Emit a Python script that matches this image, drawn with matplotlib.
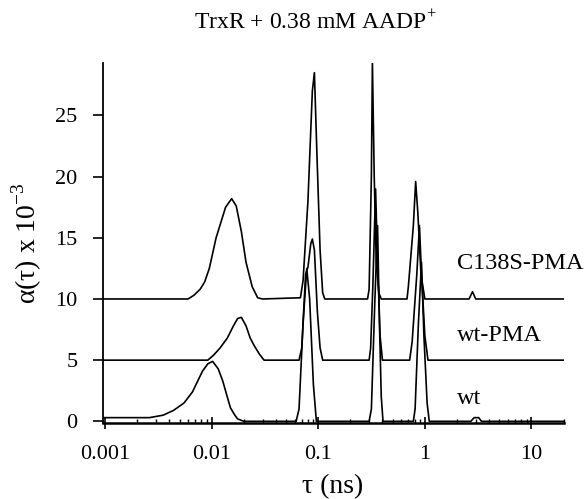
import matplotlib.pyplot as plt
import numpy as np

plt.rcParams['font.family'] = ['Liberation Serif', 'DejaVu Serif']
plt.rcParams['mathtext.fontset'] = 'custom'
plt.rcParams['mathtext.rm'] = 'Liberation Serif'

# lifetime distributions (values above each trace's own baseline)
tau_c138s = [0.00095, 0.006, 0.0068, 0.0078, 0.0086, 0.0095, 0.011, 0.0135, 0.0154, 0.017,
             0.019, 0.021, 0.024, 0.027, 0.03, 0.068, 0.072, 0.08, 0.088, 0.092, 0.097, 0.104,
             0.11, 0.115, 0.29, 0.30, 0.315, 0.322, 0.335, 0.35, 0.37, 0.39, 0.68, 0.70, 0.78,
             0.82, 0.86, 0.92, 1.0, 2.6, 2.8, 3.0, 20]
val_c138s = [0, 0, 0.3, 0.8, 1.4, 2.5, 5.0, 7.5, 8.2, 7.6,
             5.5, 3.0, 1.0, 0.1, 0, 0.1, 1.5, 8, 17, 18.5, 12, 4,
             0.5, 0, 0, 0.8, 10, 19.4, 10, 3, 0.5, 0, 0, 1, 6,
             9.6, 7, 2, 0, 0, 0.6, 0, 0]

tau_wtpma = [0.00095, 0.0092, 0.0104, 0.012, 0.014, 0.016, 0.0175, 0.019, 0.021, 0.023,
             0.025, 0.028, 0.031, 0.066, 0.070, 0.076, 0.080, 0.085, 0.088, 0.092, 0.098,
             0.104, 0.11, 0.3, 0.31, 0.325, 0.345, 0.36, 0.38, 0.40, 0.72, 0.76, 0.84, 0.89,
             0.93, 1.0, 1.07, 20]
val_wtpma = [0, 0, 0.4, 1.0, 1.8, 2.8, 3.4, 3.5, 2.8, 1.8,
             1.2, 0.5, 0, 0, 1, 7, 7.6, 9.5, 9.9, 9.0, 4,
             1.0, 0, 0, 1, 6, 14, 8, 2, 0, 0, 1.5, 7, 11,
             7, 2, 0, 0]

tau_wt = [0.00095, 0.0026, 0.0035, 0.0044, 0.0055, 0.0066, 0.0074, 0.0082, 0.0092, 0.0102,
          0.0115, 0.0127, 0.014, 0.015, 0.0165, 0.0175, 0.02, 0.062, 0.066, 0.072, 0.078,
          0.083, 0.09, 0.096, 0.3, 0.315, 0.34, 0.36, 0.375, 0.39, 0.405, 0.78, 0.81, 0.87,
          0.93, 0.98, 1.05, 1.1, 2.7, 2.9, 3.2, 3.4, 20]
val_wt = [0.3, 0.3, 0.5, 0.9, 1.5, 2.4, 3.3, 4.1, 4.7, 4.9,
          4.3, 3.3, 2.0, 1.1, 0.5, 0.2, 0, 0, 1, 8, 12.5,
          10, 3, 0, 0, 1, 10, 16, 8, 2, 0, 0, 1, 8,
          13, 7, 1.5, 0, 0, 0.3, 0.3, 0, 0]

labels = ['C138S-PMA', 'wt-PMA', 'wt']
offsets = [10, 5, 0]
label_y = [12.9, 7.0, 1.9]

fig = plt.figure(figsize=(5.87, 4.99), dpi=100)
ax = fig.add_axes([0.175, 0.152, 0.785, 0.722])

series = [(tau_c138s, val_c138s), (tau_wtpma, val_wtpma), (tau_wt, val_wt)]
for (t, v), off, lab, ly in zip(series, offsets, labels, label_y):
    ax.plot(t, np.array(v) + off, color='black', lw=1.2)
    ax.text(2.0, ly, lab, fontsize=17.5, va='center', ha='left')

ax.set_xscale('log')
ax.set_xlim(0.00095, 20)
ax.set_ylim(-0.15, 29.3)
ax.set_yticks([0, 5, 10, 15, 20, 25])
ax.set_xticks([0.001, 0.01, 0.1, 1, 10])
ax.set_xticklabels(['0.001', '0.01', '0.1', '1', '10'])

for s in ['top', 'right']:
    ax.spines[s].set_visible(False)
ax.spines['left'].set_linewidth(1.3)
ax.spines['bottom'].set_linewidth(1.8)
ax.tick_params(axis='y', direction='out', length=7, width=1.2, labelsize=16, pad=11)
ax.tick_params(axis='x', which='major', direction='inout', length=8, width=1.2, labelsize=16, pad=12)
ax.tick_params(axis='x', which='minor', direction='in', length=3, width=1.0)

ax.set_xlabel('τ (ns)', fontsize=20, labelpad=7)
ax.set_ylabel('α(τ) x 10$^{-3}$', fontsize=20, labelpad=8)
fig.text(0.538, 0.955, 'TrxR + 0.38 mM AADP$^{+}$', ha='center', va='center', fontsize=17)

fig.savefig('out.png', dpi=100)
